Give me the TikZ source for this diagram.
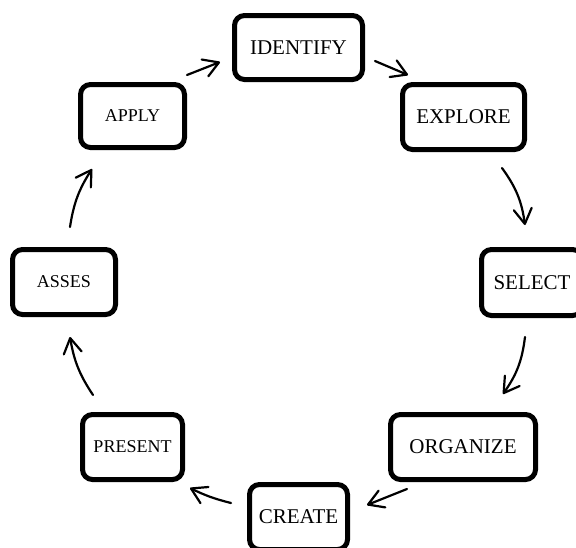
\documentclass[tikz,border=0pt]{standalone}
\usepackage{fontspec}
\setmainfont{Liberation Serif}
\usetikzlibrary{arrows.meta}
\begin{document}
\begin{tikzpicture}[x=1pt,y=1pt,
  box/.style={draw, line width=5pt, rounded corners=10pt, minimum height=65pt,
    inner sep=0pt, font=\fontsize{21}{25}\selectfont},
  smallbox/.style={box, font=\fontsize{18}{22}\selectfont},
  arr/.style={line width=2.2pt, line cap=round,
    -{Straight Barb[length=15pt,width=18pt,round]}}]
\useasboundingbox (0,0) rectangle (576,-547);
\clip (0,0) rectangle (576,-547);
\fill[white] (0,0) rectangle (576,-547);

\node[box, minimum width=128pt, minimum height=64pt] (identify) at (298.5,-47.5) {IDENTIFY};
\node[box, minimum width=122pt] (explore) at (463.5,-117) {EXPLORE};
\node[box, minimum width=101pt, minimum height=66pt] (select) at (532,-282.5) {SELECT};
\node[box, minimum width=145pt] (organize) at (463,-447) {ORGANIZE};
\node[box, minimum width=98pt] (create) at (298.5,-517) {CREATE};
\node[smallbox, minimum width=100pt] (present) at (132.5,-447) {PRESENT};
\node[smallbox, minimum width=103pt] (asses) at (64,-282) {ASSES};
\node[smallbox, minimum width=104pt, minimum height=63pt] (apply) at (132.5,-116) {APPLY};

\draw[arr] ([shift={(54.5,41)}]apply.center) -- ([shift={(-78.5,-14.5)}]identify.center);
\draw[arr] ([shift={(76.5,-13.5)}]identify.center) -- ([shift={(-55.5,42)}]explore.center);
\draw[arr] ([shift={(38.5,-51)}]explore.center) to[bend left=14] ([shift={(-7,57.5)}]select.center);
\draw[arr] ([shift={(-7,-54.5)}]select.center) to[bend left=14] ([shift={(40,53)}]organize.center);
\draw[arr] ([shift={(-56,-42)}]organize.center) -- ([shift={(68.5,12)}]create.center);
\draw[arr] ([shift={(-67.5,14)}]create.center) to[bend left=6] ([shift={(57.5,-41)}]present.center);
\draw[arr] ([shift={(-39.5,52)}]present.center) to[bend left=12] ([shift={(6,-55)}]asses.center);
\draw[arr] ([shift={(6,55)}]asses.center) to[bend left=12] ([shift={(-40.5,-53)}]apply.center);
\end{tikzpicture}
\end{document}
